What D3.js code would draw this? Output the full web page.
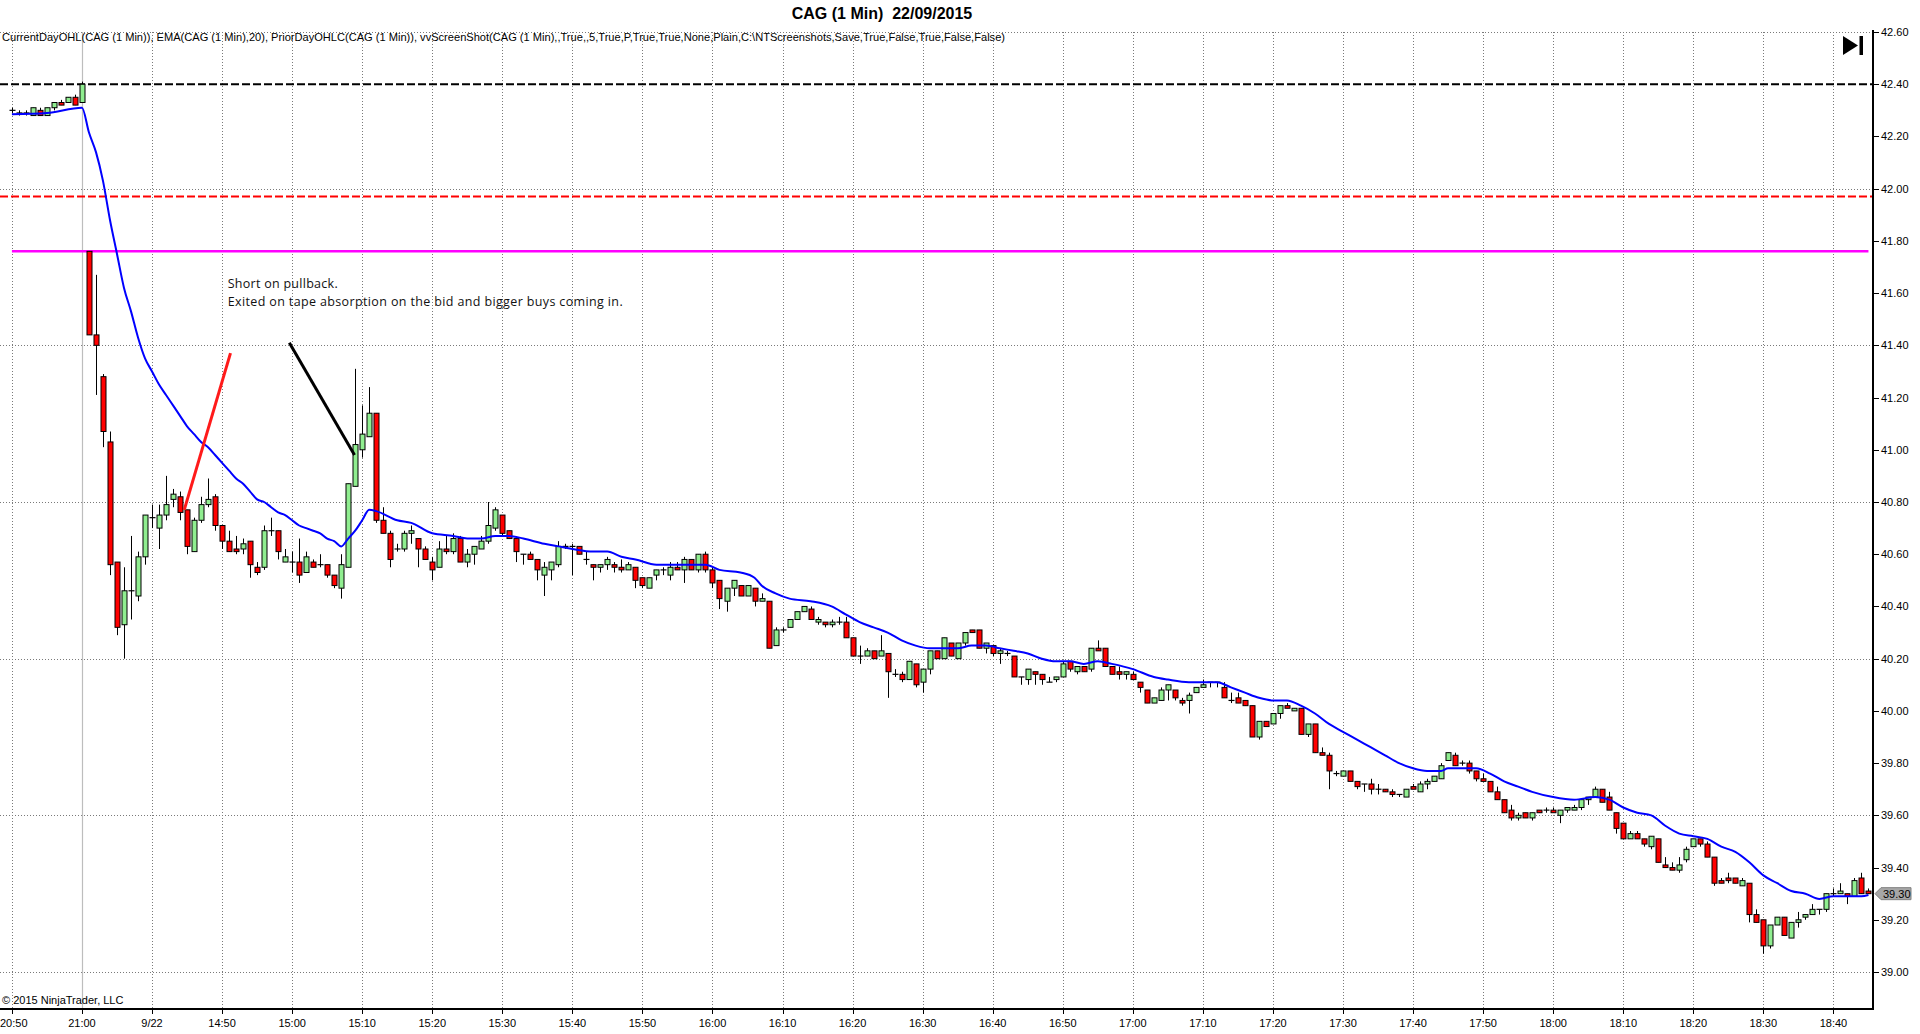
<!DOCTYPE html>
<html>
<head>
<meta charset="utf-8">
<script src="https://cdn.jsdelivr.net/npm/d3@7"></script>
<style>
  html, body { margin: 0; padding: 0; background: #ffffff; }
  svg { display: block; }
  text { font-family: "Liberation Sans", Arial, sans-serif; }
</style>
</head>
<body>
<svg id="chart" width="1920" height="1034"></svg>
<script>
// ---------------- DATA ----------------
const chartTitle = "CAG (1 Min)  22/09/2015";
const indicatorLabel = "CurrentDayOHL(CAG (1 Min)), EMA(CAG (1 Min),20), PriorDayOHLC(CAG (1 Min)), vvScreenShot(CAG (1 Min),,True,,5,True,P,True,True,None,Plain,C:\\NTScreenshots,Save,True,False,True,False,False)";
const copyright = "\u00A9 2015 NinjaTrader, LLC";
const noteLines = ["Short on pullback.", "Exited on tape absorption on the bid and bigger buys coming in."];

// x-axis tick labels (every 10 bars, bar index)
const timeTickIdx = [0,10,20,30,40,50,60,70,80,90,100,110,120,130,140,150,160,170,180,190,200,210,220,230,240,250,260];
const timeTickLabels = ["20:50","21:00","9/22","14:50","15:00","15:10","15:20","15:30","15:40","15:50","16:00","16:10","16:20","16:30","16:40","16:50","17:00","17:10","17:20","17:30","17:40","17:50","18:00","18:10","18:20","18:30","18:40"];
const sessionBreakIdx = 10;

// price axis
const priceTicks = [42.6,42.4,42.2,42.0,41.8,41.6,41.4,41.2,41.0,40.8,40.6,40.4,40.2,40.0,39.8,39.6,39.4,39.2,39.0];
const priceGrid = [42.6,42.0,41.4,40.8,40.2,39.6,39.0];

// OHLC for each 1-minute bar (index 0 = 20:50 prior session)
const opens = [42.30,42.29,42.29,42.28,42.30,42.28,42.31,42.33,42.33,42.35,42.33,
41.76,41.44,41.28,41.03,40.57,40.33,40.46,40.44,40.59,40.74,40.70,40.75,40.81,40.82,40.77,40.61,40.73,40.79,40.82,
40.71,40.65,40.62,40.62,40.65,40.55,40.55,40.69,40.69,40.57,40.57,40.57,40.53,40.57,40.56,40.56,40.52,40.47,40.55,40.86,
41.00,41.05,41.14,40.73,40.68,40.62,40.62,40.68,40.66,40.62,40.57,40.55,40.62,40.61,40.66,40.57,40.60,40.62,40.65,40.70,
40.75,40.69,40.66,40.60,40.60,40.58,40.52,40.54,40.56,40.63,40.63,40.63,40.58,40.56,40.55,40.56,40.56,40.55,40.54,40.55,
40.51,40.47,40.52,40.54,40.52,40.55,40.54,40.58,40.54,40.60,40.54,40.50,40.42,40.47,40.48,40.44,40.47,40.42,40.42,40.25,
40.31,40.32,40.35,40.38,40.39,40.34,40.34,40.33,40.34,40.34,40.28,40.21,40.21,40.23,40.21,40.22,40.14,40.14,40.12,40.18,
40.11,40.16,40.23,40.20,40.26,40.20,40.26,40.31,40.31,40.24,40.25,40.22,40.22,40.21,40.13,40.12,40.15,40.14,40.11,40.12,
40.13,40.19,40.15,40.17,40.16,40.24,40.24,40.17,40.15,40.14,40.14,40.11,40.08,40.03,40.04,40.08,40.08,40.04,40.04,40.07,
40.09,40.11,40.11,40.09,40.04,40.05,40.04,40.02,39.90,39.96,39.95,39.99,40.02,40.00,40.01,39.91,39.95,39.84,39.83,39.76,
39.75,39.77,39.73,39.72,39.72,39.70,39.70,39.69,39.68,39.67,39.71,39.69,39.72,39.73,39.74,39.81,39.83,39.80,39.80,39.77,
39.74,39.73,39.69,39.66,39.62,39.59,39.61,39.59,39.62,39.62,39.62,39.60,39.62,39.62,39.63,39.66,39.67,39.70,39.67,39.61,
39.57,39.51,39.53,39.51,39.48,39.51,39.41,39.40,39.39,39.43,39.48,39.51,39.49,39.44,39.35,39.36,39.36,39.33,39.34,39.22,
39.20,39.10,39.18,39.21,39.13,39.19,39.21,39.22,39.24,39.24,39.30,39.30,39.30,39.29,39.36,39.31];
const highs = [42.31,42.30,42.30,42.31,42.31,42.31,42.33,42.34,42.35,42.36,42.41,
41.76,41.67,41.29,41.07,40.57,40.55,40.67,40.61,40.75,40.79,40.79,40.90,40.85,40.84,40.77,40.74,40.82,40.89,40.83,
40.71,40.69,40.67,40.66,40.65,40.57,40.71,40.74,40.69,40.62,40.61,40.66,40.61,40.58,40.60,40.56,40.52,40.60,40.87,41.31,
41.17,41.24,41.14,40.78,40.69,40.64,40.69,40.71,40.66,40.63,40.59,40.65,40.67,40.68,40.67,40.62,40.63,40.67,40.80,40.78,
40.75,40.69,40.66,40.60,40.61,40.58,40.57,40.57,40.65,40.64,40.64,40.63,40.61,40.56,40.56,40.59,40.57,40.58,40.57,40.55,
40.51,40.51,40.54,40.55,40.57,40.57,40.59,40.58,40.60,40.61,40.55,40.50,40.47,40.50,40.48,40.48,40.47,40.45,40.42,40.32,
40.32,40.35,40.38,40.40,40.40,40.36,40.34,40.35,40.36,40.36,40.28,40.25,40.24,40.23,40.29,40.22,40.16,40.15,40.19,40.18,
40.16,40.23,40.23,40.28,40.26,40.26,40.30,40.31,40.31,40.26,40.25,40.24,40.23,40.21,40.13,40.16,40.15,40.14,40.13,40.13,
40.19,40.19,40.17,40.17,40.24,40.27,40.24,40.17,40.17,40.15,40.15,40.11,40.08,40.05,40.09,40.10,40.08,40.05,40.07,40.09,
40.12,40.11,40.11,40.11,40.07,40.07,40.04,40.02,39.96,39.96,39.99,40.02,40.03,40.01,40.01,39.95,39.95,39.86,39.84,39.77,
39.77,39.77,39.73,39.72,39.74,39.72,39.70,39.70,39.68,39.70,39.72,39.73,39.74,39.75,39.80,39.84,39.84,39.81,39.81,39.77,
39.76,39.73,39.71,39.66,39.64,39.61,39.61,39.61,39.62,39.63,39.63,39.62,39.63,39.64,39.66,39.67,39.71,39.70,39.69,39.61,
39.57,39.54,39.54,39.51,39.52,39.51,39.44,39.42,39.44,39.48,39.51,39.51,39.50,39.44,39.36,39.38,39.36,39.36,39.34,39.24,
39.20,39.18,39.21,39.21,39.19,39.23,39.22,39.26,39.24,39.30,39.32,39.34,39.30,39.36,39.38,39.32];
const lows = [42.29,42.28,42.28,42.28,42.28,42.28,42.30,42.32,42.33,42.32,42.33,
41.44,41.21,41.01,40.52,40.29,40.20,40.35,40.42,40.56,40.70,40.62,40.73,40.78,40.73,40.60,40.61,40.72,40.78,40.69,
40.62,40.61,40.60,40.60,40.51,40.52,40.54,40.67,40.58,40.57,40.53,40.49,40.53,40.55,40.55,40.51,40.47,40.43,40.55,40.86,
40.97,41.05,40.72,40.68,40.55,40.61,40.61,40.64,40.55,40.58,40.50,40.55,40.60,40.60,40.57,40.55,40.56,40.62,40.64,40.69,
40.67,40.66,40.57,40.56,40.58,40.50,40.44,40.50,40.55,40.62,40.52,40.60,40.56,40.50,40.53,40.54,40.53,40.53,40.54,40.47,
40.47,40.47,40.50,40.52,40.50,40.54,40.49,40.54,40.53,40.53,40.47,40.39,40.38,40.44,40.44,40.44,40.40,40.42,40.24,40.25,
40.30,40.32,40.35,40.38,40.35,40.33,40.32,40.32,40.33,40.28,40.21,40.18,40.21,40.20,40.21,40.05,40.13,40.11,40.12,40.09,
40.07,40.14,40.20,40.20,40.21,40.20,40.25,40.30,40.24,40.22,40.21,40.18,40.21,40.13,40.10,40.10,40.10,40.10,40.11,40.11,
40.13,40.15,40.14,40.15,40.15,40.23,40.17,40.14,40.12,40.12,40.12,40.07,40.03,40.03,40.04,40.04,40.04,40.02,39.99,40.07,
40.09,40.09,40.09,40.05,40.03,40.03,40.02,39.90,39.89,39.94,39.95,39.97,40.01,40.00,39.91,39.90,39.84,39.83,39.70,39.75,
39.75,39.73,39.70,39.69,39.68,39.68,39.69,39.67,39.67,39.67,39.70,39.69,39.70,39.73,39.74,39.81,39.79,39.79,39.76,39.73,
39.73,39.69,39.66,39.61,39.58,39.58,39.59,39.58,39.61,39.61,39.61,39.57,39.61,39.62,39.62,39.64,39.67,39.65,39.62,39.53,
39.51,39.51,39.51,39.48,39.47,39.42,39.40,39.39,39.38,39.42,39.48,39.48,39.44,39.33,39.34,39.34,39.34,39.33,39.19,39.19,
39.07,39.09,39.18,39.14,39.13,39.17,39.20,39.22,39.22,39.23,39.29,39.30,39.26,39.29,39.30,39.30];
const closes = [42.30,42.29,42.29,42.31,42.28,42.31,42.33,42.32,42.35,42.32,42.40,
41.44,41.40,41.07,40.56,40.32,40.46,40.46,40.59,40.75,40.74,40.75,40.79,40.83,40.76,40.63,40.73,40.79,40.81,40.71,
40.65,40.61,40.61,40.64,40.56,40.53,40.69,40.69,40.61,40.59,40.57,40.52,40.59,40.55,40.56,40.52,40.48,40.56,40.87,41.02,
41.06,41.14,40.73,40.68,40.58,40.62,40.68,40.69,40.62,40.58,40.54,40.62,40.61,40.66,40.57,40.60,40.63,40.65,40.71,40.77,
40.68,40.66,40.61,40.60,40.58,40.54,40.55,40.57,40.63,40.63,40.63,40.60,40.58,40.55,40.56,40.58,40.55,40.54,40.56,40.50,
40.48,40.51,40.54,40.54,40.55,40.54,40.58,40.54,40.60,40.54,40.49,40.43,40.47,40.50,40.44,40.48,40.42,40.43,40.24,40.31,
40.31,40.35,40.38,40.40,40.35,40.35,40.33,40.34,40.34,40.28,40.21,40.21,40.23,40.20,40.23,40.15,40.14,40.12,40.19,40.10,
40.16,40.23,40.20,40.28,40.21,40.26,40.30,40.30,40.24,40.26,40.22,40.23,40.22,40.13,40.13,40.16,40.14,40.12,40.11,40.13,
40.18,40.16,40.17,40.15,40.24,40.23,40.17,40.14,40.14,40.15,40.12,40.09,40.03,40.05,40.08,40.10,40.05,40.03,40.06,40.09,
40.10,40.11,40.11,40.05,40.04,40.03,40.02,39.90,39.96,39.94,39.99,40.02,40.01,40.01,39.91,39.95,39.84,39.83,39.77,39.76,
39.77,39.73,39.71,39.72,39.70,39.70,39.69,39.68,39.68,39.70,39.70,39.72,39.73,39.75,39.79,39.84,39.79,39.80,39.77,39.74,
39.73,39.69,39.66,39.61,39.59,39.60,39.59,39.61,39.61,39.62,39.61,39.62,39.63,39.63,39.66,39.67,39.70,39.65,39.62,39.55,
39.51,39.53,39.51,39.49,39.52,39.42,39.40,39.39,39.41,39.47,39.51,39.49,39.44,39.34,39.34,39.35,39.34,39.35,39.22,39.19,
39.10,39.18,39.21,39.14,39.19,39.20,39.22,39.24,39.24,39.30,39.30,39.31,39.29,39.35,39.30,39.30];

// EMA(20) at selected bars
const emaIdx = [0,5,10,11,12,13,14,15,16,17,18,19,20,21,22,23,24,25,26,27,28,29,30,31,32,33,34,35,36,37,38,39,40,41,42,43,44,45,46,47,48,49,50,51,52,55,57,60,63,65,67,69,71,73,76,78,80,83,85,87,89,92,95,99,101,104,106,107,109,111,114,117,119,121,123,125,127,129,131,133,135,137,139,141,143,145,147,149,151,153,155,157,160,163,165,168,170,172,174,176,178,180,182,184,186,188,190,192,194,196,198,200,202,204,205,207,209,211,213,215,217,220,223,226,228,230,232,234,236,238,240,242,244,246,248,250,252,254,256,258,260,262,264,265];
const emaVal = [42.285,42.29,42.31,42.215,42.14,42.03,41.88,41.75,41.62,41.53,41.43,41.35,41.30,41.25,41.21,41.17,41.13,41.09,41.06,41.03,41.01,40.98,40.95,40.92,40.89,40.87,40.84,40.81,40.80,40.78,40.76,40.75,40.73,40.71,40.70,40.69,40.68,40.66,40.65,40.63,40.66,40.69,40.73,40.77,40.765,40.73,40.72,40.68,40.67,40.66,40.66,40.67,40.67,40.66,40.64,40.63,40.62,40.61,40.61,40.59,40.58,40.56,40.56,40.56,40.54,40.53,40.51,40.48,40.45,40.43,40.42,40.40,40.37,40.34,40.32,40.30,40.27,40.25,40.24,40.24,40.24,40.25,40.25,40.24,40.23,40.22,40.20,40.19,40.19,40.18,40.19,40.18,40.16,40.13,40.12,40.11,40.11,40.11,40.09,40.07,40.05,40.04,40.04,40.02,39.99,39.95,39.92,39.89,39.86,39.83,39.80,39.78,39.77,39.77,39.78,39.78,39.78,39.76,39.73,39.71,39.69,39.67,39.66,39.67,39.66,39.63,39.61,39.60,39.56,39.53,39.52,39.51,39.48,39.46,39.42,39.37,39.34,39.31,39.30,39.28,39.29,39.29,39.29,39.295];

// horizontal level lines
const priorHigh = 42.40;      // black dashed
const priorLow = 41.97;       // red dashed
const currentOpen = 41.76;    // magenta
const lastPrice = 39.30;

// hand-drawn annotation lines [startIdx, startPrice, endIdx, endPrice]
const redStroke = [24.6, 40.77, 31.2, 41.37];
const blackStroke = [39.6, 41.41, 48.9, 40.98];
const noteAnchor = [30.8, 41.62];   // bar index, price at first text line baseline

// ---------------- LAYOUT ----------------
const plotLeft = 0, plotRight = 1873, plotTop = 32, plotBottom = 1009;
const svg = d3.select("#chart");

const x = d3.scaleLinear().domain([-1.7, 265.65]).range([plotLeft, plotRight]);
const y = d3.scaleLinear().domain([42.6, 39.0]).range([32, 972]);

// Title
svg.append("text").attr("x", 882).attr("y", 19).attr("text-anchor", "middle")
  .style("white-space", "pre").attr("xml:space", "preserve")
  .attr("font-size", 16).attr("font-weight", "bold").attr("fill", "#000").text(chartTitle);

// Grid - horizontal dotted
svg.append("g").selectAll("line").data(priceGrid).join("line")
  .attr("x1", plotLeft).attr("x2", plotRight)
  .attr("y1", d => Math.round(y(d)) + 0.5).attr("y2", d => Math.round(y(d)) + 0.5)
  .attr("stroke", "#7a7a7a").attr("stroke-width", 1).attr("stroke-dasharray", "1,2");

// Grid - vertical dotted
svg.append("g").selectAll("line").data(timeTickIdx.filter(d => d !== sessionBreakIdx)).join("line")
  .attr("x1", d => Math.round(x(d)) + 0.5).attr("x2", d => Math.round(x(d)) + 0.5)
  .attr("y1", plotTop).attr("y2", plotBottom)
  .attr("stroke", "#7a7a7a").attr("stroke-width", 1).attr("stroke-dasharray", "1,2");

// Session break solid line
svg.append("line")
  .attr("x1", Math.round(x(sessionBreakIdx)) + 0.5).attr("x2", Math.round(x(sessionBreakIdx)) + 0.5)
  .attr("y1", plotTop).attr("y2", plotBottom).attr("stroke", "#bdbdbd").attr("stroke-width", 1.2);

// Indicator label
svg.append("text").attr("x", 2).attr("y", 41).attr("font-size", 11).attr("fill", "#000")
  .attr("textLength", 1003).attr("lengthAdjust", "spacingAndGlyphs").text(indicatorLabel);

// Level lines
svg.append("line").attr("x1", plotLeft).attr("x2", plotRight)
  .attr("y1", y(priorHigh)).attr("y2", y(priorHigh))
  .attr("stroke", "#000").attr("stroke-width", 2).attr("stroke-dasharray", "8,3");
svg.append("line").attr("x1", plotLeft).attr("x2", plotRight)
  .attr("y1", y(priorLow)).attr("y2", y(priorLow))
  .attr("stroke", "#ff0000").attr("stroke-width", 2).attr("stroke-dasharray", "8,3");
svg.append("line").attr("x1", x(0)).attr("x2", x(265))
  .attr("y1", y(currentOpen)).attr("y2", y(currentOpen))
  .attr("stroke", "#ff00ff").attr("stroke-width", 2.5);

// Candles
const bars = d3.range(opens.length).map(i => ({i, o: opens[i], h: highs[i], l: lows[i], c: closes[i]}));
const bodyW = 5;
const cg = svg.append("g");
cg.selectAll("line.wick").data(bars).join("line").attr("class", "wick")
  .attr("x1", d => Math.round(x(d.i)) + 0.5).attr("x2", d => Math.round(x(d.i)) + 0.5)
  .attr("y1", d => y(d.h)).attr("y2", d => y(d.l))
  .attr("stroke", "#000").attr("stroke-width", 1);
cg.selectAll("rect.body").data(bars.filter(d => d.o !== d.c)).join("rect").attr("class", "body")
  .attr("x", d => Math.round(x(d.i)) - 2)
  .attr("y", d => y(Math.max(d.o, d.c)))
  .attr("width", bodyW)
  .attr("height", d => Math.max(1, Math.abs(y(d.o) - y(d.c))))
  .attr("fill", d => d.c > d.o ? "#90ee90" : "#ff0000")
  .attr("stroke", "#000").attr("stroke-width", 1);
cg.selectAll("line.doji").data(bars.filter(d => d.o === d.c)).join("line").attr("class", "doji")
  .attr("x1", d => Math.round(x(d.i)) - 2.5).attr("x2", d => Math.round(x(d.i)) + 3.5)
  .attr("y1", d => y(d.o)).attr("y2", d => y(d.o))
  .attr("stroke", "#000").attr("stroke-width", 1.2);

// EMA line
const emaPts = emaIdx.map((d, k) => [d, emaVal[k]]);
svg.append("path").datum(emaPts)
  .attr("d", d3.line().x(d => x(d[0])).y(d => y(d[1])).curve(d3.curveMonotoneX))
  .attr("fill", "none").attr("stroke", "#0000ff").attr("stroke-width", 2);

// Annotation strokes
svg.append("line").attr("x1", x(redStroke[0])).attr("y1", y(redStroke[1]))
  .attr("x2", x(redStroke[2])).attr("y2", y(redStroke[3]))
  .attr("stroke", "#ff1a1a").attr("stroke-width", 3);
svg.append("line").attr("x1", x(blackStroke[0])).attr("y1", y(blackStroke[1]))
  .attr("x2", x(blackStroke[2])).attr("y2", y(blackStroke[3]))
  .attr("stroke", "#000").attr("stroke-width", 3);

// Note text
const note = svg.append("g").attr("font-size", 12.5).attr("fill", "#111");
note.append("text").attr("x", x(noteAnchor[0])).attr("y", y(noteAnchor[1])).style("font-family", "'Open Sans', sans-serif")
  .attr("textLength", 110).attr("lengthAdjust", "spacing").text(noteLines[0]);
note.append("text").attr("x", x(noteAnchor[0])).attr("y", y(noteAnchor[1]) + 18).style("font-family", "'Open Sans', sans-serif")
  .attr("textLength", 395).attr("lengthAdjust", "spacing").text(noteLines[1]);

// Axes lines
svg.append("line").attr("x1", plotLeft).attr("x2", plotRight + 1).attr("y1", plotBottom).attr("y2", plotBottom)
  .attr("stroke", "#000").attr("stroke-width", 2);
svg.append("line").attr("x1", plotRight).attr("x2", plotRight).attr("y1", plotTop - 2).attr("y2", plotBottom)
  .attr("stroke", "#000").attr("stroke-width", 2);

// X axis ticks & labels
const xt = svg.append("g");
xt.selectAll("line").data(timeTickIdx).join("line")
  .attr("x1", d => Math.round(x(d)) + 0.5).attr("x2", d => Math.round(x(d)) + 0.5)
  .attr("y1", plotBottom).attr("y2", plotBottom + 5).attr("stroke", "#000");
xt.selectAll("text").data(timeTickIdx).join("text")
  .attr("x", (d, k) => k === 0 ? 0 : x(d)).attr("y", plotBottom + 18)
  .attr("text-anchor", (d, k) => k === 0 ? "start" : "middle")
  .attr("font-size", 11).attr("fill", "#000").text((d, k) => timeTickLabels[k]);

// Y axis ticks & labels
const yt = svg.append("g");
yt.selectAll("line").data(priceTicks).join("line")
  .attr("x1", plotRight).attr("x2", plotRight + 6)
  .attr("y1", d => Math.round(y(d)) + 0.5).attr("y2", d => Math.round(y(d)) + 0.5).attr("stroke", "#000");
yt.selectAll("text").data(priceTicks).join("text")
  .attr("x", plotRight + 8).attr("y", d => y(d) + 4)
  .attr("font-size", 11).attr("fill", "#000").text(d => d.toFixed(2));

// Last price marker
const ly = y(lastPrice);
svg.append("path")
  .attr("d", `M${plotRight + 2},${ly} L${plotRight + 8},${ly - 6} L${plotRight + 38},${ly - 6} L${plotRight + 38},${ly + 6} L${plotRight + 8},${ly + 6} Z`)
  .attr("fill", "#a6a6a6").attr("stroke", "#808080").attr("stroke-width", 1);
svg.append("text").attr("x", plotRight + 10).attr("y", ly + 4).attr("font-size", 11).attr("fill", "#000")
  .text(lastPrice.toFixed(2));

// Play/end icon
svg.append("path").attr("d", "M1843,36 L1858,45.5 L1843,55 Z").attr("fill", "#000");
svg.append("rect").attr("x", 1859.5).attr("y", 36).attr("width", 3.5).attr("height", 19).attr("fill", "#000");

// Copyright
svg.append("text").attr("x", 2).attr("y", 1004).attr("font-size", 11).attr("fill", "#000").text(copyright);
</script>
</body>
</html>
